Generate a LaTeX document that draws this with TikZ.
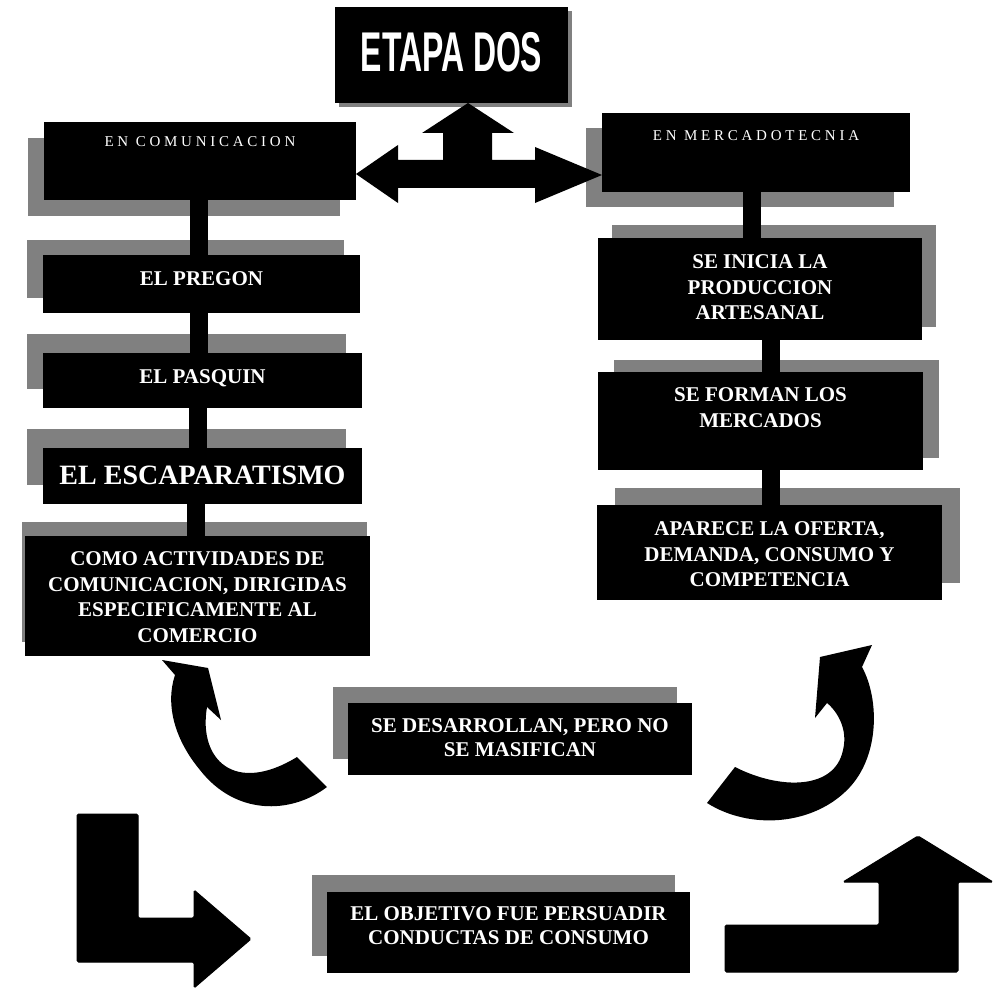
\documentclass[tikz,border=0pt]{standalone}
\usepackage{fontspec}
\usepackage{graphicx}
\setmainfont{Liberation Serif}
\newfontfamily\spacedserif[LetterSpace=25]{Liberation Serif}
\newfontfamily\titlefont{Liberation Sans}
\usetikzlibrary{shadows}
\definecolor{shadowgray}{gray}{0.5}
% box content: width, height, gap above first line, text
\newcommand{\boxtxt}[4]{\parbox[c][#2pt][t]{#1pt}{\centering\vspace*{#3pt}#4}}
\tikzset{
  box/.style={fill=black, text=white, inner sep=0pt, outer sep=0pt,
    font=\bfseries\fontsize{21}{25.5}\selectfont},
  backdrop/.style 2 args={general shadow={fill=shadowgray, shadow xshift=#1pt, shadow yshift=#2pt}},
  conn/.style={draw=black, line width=18pt},
  block/.style={fill=black, draw=black, line width=1pt, rounded corners=1.5pt},
  curvearrow/.style={fill=black}
}
\begin{document}
\begin{tikzpicture}[x=1pt,y=-1pt]
\useasboundingbox (0,0) rectangle (995,987);

% title
\node[box, backdrop={4}{-4}] (title) at (451.5,55)
  {\boxtxt{233}{96}{25}{\titlefont\bfseries\fontsize{56}{56}\selectfont\scalebox{0.57}[1]{ETAPA DOS}}};

% communication column
\node[box, backdrop={-16}{-16}] (com) at (200,161)
  {\boxtxt{312}{78}{15}{\spacedserif\mdseries\fontsize{15}{18}\selectfont EN COMUNICACION}};
\node[box, backdrop={-16}{15}] (pregon) at (201.5,284)
  {\boxtxt{317}{58}{17}{EL PREGON}};
\node[box, backdrop={-16}{19}] (pasquin) at (202.5,380.5)
  {\boxtxt{319}{55}{17}{EL PASQUIN}};
\node[box, backdrop={-16}{19}] (escap) at (202.5,476)
  {\boxtxt{319}{56}{18}{\fontsize{28}{30}\selectfont EL ESCAPARATISMO}};
\node[box, backdrop={-3}{14}] (como) at (197.5,596)
  {\boxtxt{345}{120}{16}{COMO ACTIVIDADES DE\\COMUNICACION, DIRIGIDAS\\ESPECIFICAMENTE AL\\COMERCIO}};

% marketing column
\node[box, backdrop={-16}{-15}] (merc) at (756,152.5)
  {\boxtxt{308}{79}{18}{\spacedserif\mdseries\fontsize{15}{18}\selectfont EN MERCADOTECNIA}};
\node[box, backdrop={14}{13}] (inicia) at (760,289)
  {\boxtxt{324}{102}{17}{SE INICIA LA\\PRODUCCION\\ARTESANAL}};
\node[box, backdrop={16}{12}] (forman) at (760.5,421)
  {\boxtxt{325}{98}{16}{SE FORMAN LOS\\MERCADOS}};
\node[box, backdrop={18}{17}] (aparece) at (769.5,552.5)
  {\boxtxt{345}{95}{17}{APARECE LA OFERTA,\\DEMANDA, CONSUMO Y\\COMPETENCIA}};

% lower boxes
\node[box, backdrop={-15}{16}] (desarr) at (520,739)
  {\boxtxt{344}{72}{16}{\fontsize{21}{23.5}\selectfont SE DESARROLLAN, PERO NO\\SE MASIFICAN}};
\node[box, backdrop={-15}{17}] (objetivo) at (508.5,932.5)
  {\boxtxt{363}{81}{15}{\fontsize{21}{24}\selectfont EL OBJETIVO FUE PERSUADIR\\CONDUCTAS DE CONSUMO}};

% vertical connectors
\draw[conn] ([xshift=-1pt]com.south) -- ([xshift=-1pt]com.south |- pregon.north);
\draw[conn] ([xshift=-2.5pt]pregon.south) -- ([xshift=-2.5pt]pregon.south |- pasquin.north);
\draw[conn] ([xshift=-5pt]pasquin.south) -- ([xshift=-5pt]pasquin.south |- escap.north);
\draw[conn] ([xshift=-7pt]escap.south) -- ([xshift=-7pt]escap.south |- como.north);
\draw[conn] ([xshift=-4pt]merc.south) -- ([xshift=-4pt]merc.south |- inicia.north);
\draw[conn] ([xshift=11pt]inicia.south) -- ([xshift=11pt]inicia.south |- forman.north);
\draw[conn] ([xshift=10pt]forman.south) -- ([xshift=10pt]forman.south |- aparece.north);

% three-way block arrow under the title
\coordinate (hub) at (467,174);
\fill[black] (com.east |- hub) -- (398,145) -- (398,160) -- (443,160) -- (443,133)
  -- (422,133) -- (title.south -| 468,0) -- (514,133) -- (492,133) -- (492,160)
  -- (535,160) -- (535,147) -- (merc.west |- 0,175) -- (535,203) -- (535,188)
  -- (398,188) -- (398,203) -- cycle;

% curved arrow on the left
\fill[curvearrow] (162,660) -- (208,668) -- (221,720) -- (207,707)
  .. controls (198,760) and (235,795) .. (297,757)
  -- (327,787)
  .. controls (290,815) and (235,815) .. (200,770)
  .. controls (175,740) and (165,705) .. (175,675) -- cycle;

% curved arrow on the right
\fill[curvearrow] (872,645) -- (862,667)
  .. controls (880,700) and (880,760) .. (845,792)
  .. controls (810,825) and (750,830) .. (707,803)
  -- (735,767)
  .. controls (780,790) and (835,790) .. (843,750)
  .. controls (848,730) and (838,712) .. (827,703)
  -- (815,718) -- (820,657) -- cycle;

% bent arrow, bottom left
\filldraw[block] (77,814) -- (138,814) -- (138,918) -- (194,918) -- (194,890)
  -- (251,939) -- (194,988) -- (194,962) -- (77,962) -- cycle;

% bent arrow, bottom right
\filldraw[block] (725,925) -- (879,925) -- (879,882) -- (843,882) -- (918,836)
  -- (993,882) -- (958,882) -- (958,972) -- (725,972) -- cycle;
\end{tikzpicture}
\end{document}
